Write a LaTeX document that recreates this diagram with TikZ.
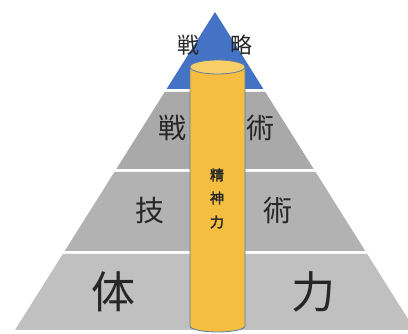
\documentclass[tikz,border=0pt]{standalone}
\usepackage{fontspec}
\newfontfamily\jp{Noto Sans CJK JP}
\newfontfamily\jpb{Noto Sans CJK JP}[FakeBold=2.5]
\definecolor{topblue}{HTML}{4472C4}
\definecolor{grayA}{HTML}{A9A9A9}
\definecolor{grayB}{HTML}{B2B2B2}
\definecolor{grayC}{HTML}{C0C0C0}
\definecolor{pillar}{HTML}{F5BE41}
\definecolor{pillartop}{HTML}{F8CF67}
\definecolor{pillaredge}{HTML}{5B7BA8}
\definecolor{ink}{HTML}{262626}
\tikzset{
  lbl/.style={text=ink, inner sep=0pt},
  pilltext/.style={text=ink, inner sep=0pt, font=\jpb\fontsize{14}{14}\selectfont}
}
\begin{document}
\begin{tikzpicture}[x=1pt,y=-1pt]
\useasboundingbox (0,0) rectangle (408,334);
\begin{scope}
\clip (0,0) rectangle (408,334);
% top blue triangle
\fill[topblue] (215,12) -- (263.4,89) -- (166.6,89) -- cycle;
% layers
\fill[grayA] (164.7,92) -- (265.3,92) -- (313.7,169) -- (116.3,169) -- cycle;
\fill[grayB] (114.4,172) -- (315.6,172) -- (365.3,251) -- (64.7,251) -- cycle;
\fill[grayC] (62.8,254) -- (367.2,254) -- (415,330) -- (15,330) -- cycle;
\end{scope}
% labels
\node[lbl, font=\jp\fontsize{22}{22}\selectfont] (s1) at (188,45) {戦};
\node[lbl, font=\jp\fontsize{22}{22}\selectfont] (s2) at (241,45) {略};
\node[lbl, font=\jp\fontsize{28}{28}\selectfont] (t1) at (172,128) {戦};
\node[lbl, font=\jp\fontsize{28}{28}\selectfont] (t2) at (260,128) {術};
\node[lbl, font=\jp\fontsize{29}{29}\selectfont] (g1) at (150,210) {技};
\node[lbl, font=\jp\fontsize{29}{29}\selectfont] (g2) at (278,210) {術};
\node[lbl, font=\jp\fontsize{44}{44}\selectfont] (b1) at (113,292) {体};
\node[lbl, font=\jp\fontsize{44}{44}\selectfont] (b2) at (313,292) {力};
% pillar
\filldraw[fill=pillar, draw=pillaredge, line width=0.8pt]
  (190,67) -- (190,326) arc[start angle=180, end angle=360, x radius=27.5, y radius=-6] -- (245,67) -- cycle;
\filldraw[fill=pillartop, draw=pillaredge, line width=0.8pt] (217.5,67) ellipse[x radius=27.5, y radius=7];
\node[pilltext] (p1) at (217,175) {精};
\node[pilltext] (p2) at (217,198) {神};
\node[pilltext] (p3) at (217,222) {力};
\end{tikzpicture}
\end{document}
